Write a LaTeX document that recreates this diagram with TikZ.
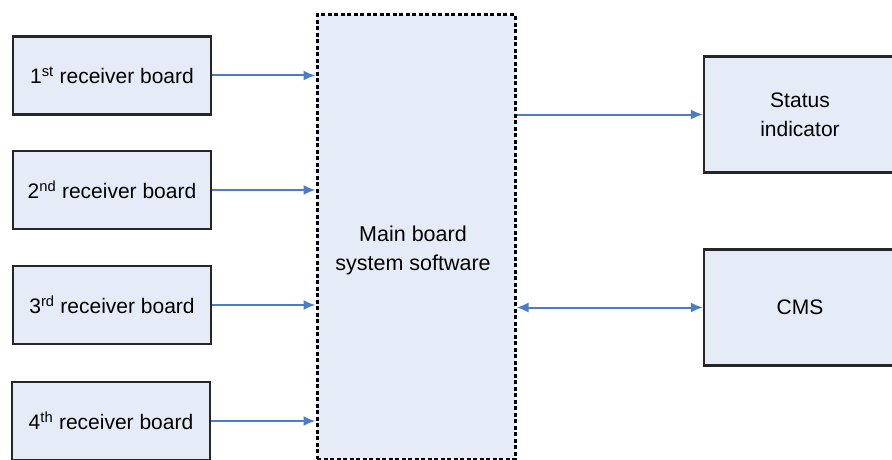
\documentclass[tikz,border=0pt]{standalone}
\usepackage{fontspec}
\setmainfont{Liberation Sans}
\usetikzlibrary{arrows.meta}
\definecolor{boxfill}{HTML}{E6ECF7}
\definecolor{linkblue}{HTML}{4A7CC8}
\begin{document}
\begin{tikzpicture}[x=1pt,y=-1pt,
  board/.style={draw=black!85,line width=2.2pt,fill=boxfill,minimum width=198pt,minimum height=78pt,
    inner sep=0pt,font=\fontsize{21}{24}\selectfont},
  outbox/.style={draw=black!85,line width=2.2pt,fill=boxfill,minimum width=192pt,minimum height=116pt,
    inner sep=0pt,font=\fontsize{21}{29}\selectfont,align=center},
  mainbox/.style={draw=black,line width=3pt,dash pattern=on 4pt off 2.5pt,fill=boxfill,
    minimum width=198pt,minimum height=444pt,inner sep=0pt},
  link/.style={draw=linkblue,line width=2pt,-{Latex[length=12pt,width=10pt]}},
  dlink/.style={draw=linkblue,line width=2pt,{Latex[length=12pt,width=10pt]}-{Latex[length=12pt,width=10pt]}}]
\useasboundingbox (0,0) rectangle (892,460);
\begin{scope}
\clip (0,0) rectangle (892,460);
% central software block
\node[mainbox] (main) at (416,237) {};
\node[font=\fontsize{21.5}{29}\selectfont,align=center] (maintext) at (413,250) {Main board\\system software};
% receiver boards
\node[board] (r1) at (112,75.5) {1\textsuperscript{st} receiver board};
\node[board] (r2) at (112,190) {2\textsuperscript{nd} receiver board};
\node[board] (r3) at (112,305) {3\textsuperscript{rd} receiver board};
\node[board] (r4) at (111,421) {4\textsuperscript{th} receiver board};
% outputs
\node[outbox] (status) at (800,114.5) {Status\\indicator};
\node[outbox] (cms) at (800,307.5) {CMS};
% connections
\coordinate (m1) at (main.west |- r1);
\coordinate (m2) at (main.west |- r2);
\coordinate (m3) at (main.west |- r3);
\coordinate (m4) at (main.west |- r4);
\draw[link] (r1.east) -- (m1);
\draw[link] (r2.east) -- (m2);
\draw[link] (r3.east) -- (m3);
\draw[link] (r4.east) -- (m4);
\coordinate (ms) at (main.east |- status);
\coordinate (mc) at (main.east |- cms);
\draw[link] (ms) -- (status.west);
\draw[dlink] (mc) -- (cms.west);
\end{scope}
\end{tikzpicture}
\end{document}
